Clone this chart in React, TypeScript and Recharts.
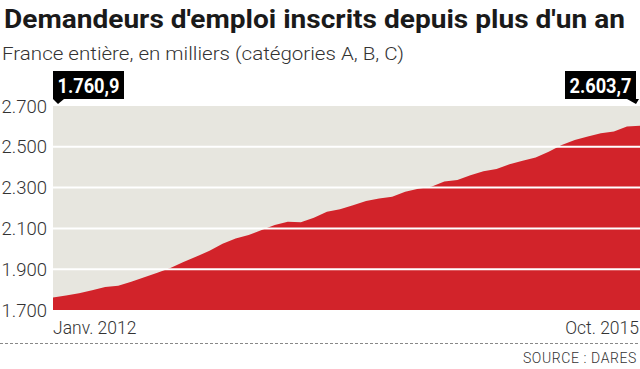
import {
  AreaChart,
  Area,
  XAxis,
  YAxis,
  CartesianGrid,
  ReferenceLine,
  ReferenceDot,
} from 'recharts'

const months = [
  'Janv. 2012', 'Févr. 2012', 'Mars 2012', 'Avr. 2012', 'Mai 2012', 'Juin 2012',
  'Juil. 2012', 'Août 2012', 'Sept. 2012', 'Oct. 2012', 'Nov. 2012', 'Déc. 2012',
  'Janv. 2013', 'Févr. 2013', 'Mars 2013', 'Avr. 2013', 'Mai 2013', 'Juin 2013',
  'Juil. 2013', 'Août 2013', 'Sept. 2013', 'Oct. 2013', 'Nov. 2013', 'Déc. 2013',
  'Janv. 2014', 'Févr. 2014', 'Mars 2014', 'Avr. 2014', 'Mai 2014', 'Juin 2014',
  'Juil. 2014', 'Août 2014', 'Sept. 2014', 'Oct. 2014', 'Nov. 2014', 'Déc. 2014',
  'Janv. 2015', 'Févr. 2015', 'Mars 2015', 'Avr. 2015', 'Mai 2015', 'Juin 2015',
  'Juil. 2015', 'Août 2015', 'Sept. 2015', 'Oct. 2015',
]

// milliers de demandeurs, cat. A, B, C
const values = [
  1760.9, 1771, 1782, 1797, 1813, 1819, 1839, 1861, 1882, 1906, 1935, 1962,
  1990, 2025, 2050, 2068, 2092, 2117, 2133, 2130, 2152, 2182, 2194, 2214,
  2234, 2246, 2255, 2280, 2294, 2304, 2330, 2337, 2360, 2380, 2391, 2415,
  2432, 2447, 2476, 2509, 2533, 2550, 2566, 2575, 2599, 2603.7,
]

const yTicks = [1700, 1900, 2100, 2300, 2500, 2700]
const gridValues = [1900, 2100, 2300, 2500]
const xTicks = ['Janv. 2012', 'Oct. 2015']

const data = months.map((month, i) => ({ month, value: values[i] }))

const RED = '#d2232a'
const PLOT_BG = '#e7e6df'
const TEXT = '#333'

function thousands(s: string) {
  return s.replace(/\B(?=(\d{3})+(?!\d))/g, '.')
}

function formatTick(v: number) {
  return thousands(String(v))
}

function formatValue(v: number) {
  const [int, dec] = v.toFixed(1).split('.')
  return `${thousands(int)},${dec}`
}

function MonthTick(props: any) {
  const { x, y, payload } = props
  const anchor = payload.value === xTicks[0] ? 'start' : 'end'
  return (
    <text
      x={anchor === 'start' ? x : x - 1}
      y={y + 16}
      textAnchor={anchor}
      fill={TEXT}
      fontSize={17.5}
      fontWeight={300}
    >
      {payload.value}
    </text>
  )
}

function Callout({ cx, cy, text, side }: { cx: number; cy: number; text: string; side: 'left' | 'right' }) {
  const w = 71
  const h = 28
  const top = cy - 35
  const boxX = side === 'left' ? cx : cx - 4 - w
  const tri =
    side === 'left'
      ? `${cx},${top + h} ${cx + 11},${top + h} ${cx + 5},${cy - 2}`
      : `${cx - 13},${top + h} ${cx - 1},${top + h} ${cx - 4},${cy - 2}`
  return (
    <g>
      <rect x={boxX} y={top} width={w} height={h} fill="#000" />
      <polygon points={tri} fill="#000" />
      <text
        x={boxX + w / 2}
        y={top + 21.5}
        textAnchor="middle"
        fill="#fff"
        fontSize={21}
        fontWeight={700}
        textLength={62}
        lengthAdjust="spacingAndGlyphs"
      >
        {text}
      </text>
    </g>
  )
}

export default function App() {
  const last = data.length - 1
  return (
    <div
      style={{
        position: 'absolute',
        top: 0,
        left: 0,
        width: 640,
        height: 369,
        background: '#fff',
        fontFamily: 'Roboto, sans-serif',
        overflow: 'hidden',
      }}
    >
      <AreaChart
        width={640}
        height={369}
        data={data}
        margin={{ top: 106, right: 0, bottom: 29, left: 0 }}
      >
        <CartesianGrid fill={PLOT_BG} horizontal={false} vertical={false} />
        <XAxis
          dataKey="month"
          ticks={xTicks}
          interval={0}
          tick={<MonthTick />}
          axisLine={false}
          tickLine={false}
          height={30}
        />
        <YAxis
          domain={[1700, 2700]}
          ticks={yTicks}
          interval={0}
          tickFormatter={formatTick}
          tick={{ fill: TEXT, fontSize: 18.5, fontWeight: 300 }}
          axisLine={false}
          tickLine={false}
          tickMargin={0}
          width={53}
        />
        <Area
          type="linear"
          dataKey="value"
          stroke="none"
          fill={RED}
          fillOpacity={1}
          isAnimationActive={false}
        />
        {gridValues.map((v) => (
          <ReferenceLine key={v} y={v} stroke="#fff" strokeWidth={2} />
        ))}
        <ReferenceDot
          x={months[0]}
          y={2700}
          r={0}
          ifOverflow="visible"
          shape={(p: any) => (
            <Callout cx={p.cx} cy={p.cy} text={formatValue(values[0])} side="left" />
          )}
        />
        <ReferenceDot
          x={months[last]}
          y={2700}
          r={0}
          ifOverflow="visible"
          shape={(p: any) => (
            <Callout cx={p.cx} cy={p.cy} text={formatValue(values[last])} side="right" />
          )}
        />
      </AreaChart>
      <svg
        width={640}
        height={369}
        style={{ position: 'absolute', top: 0, left: 0, pointerEvents: 'none' }}
      >
        <text
          x={4}
          y={28}
          fontSize={25}
          fontWeight={700}
          fill="#1a1a1a"
          textLength={621}
          lengthAdjust="spacingAndGlyphs"
        >
          Demandeurs d'emploi inscrits depuis plus d'un an
        </text>
        <text
          x={2}
          y={60}
          fontSize={18}
          fontWeight={300}
          fill={TEXT}
          textLength={402}
          lengthAdjust="spacingAndGlyphs"
        >
          France entière, en milliers (catégories A, B, C)
        </text>
        <line x1={0} x2={640} y1={343.5} y2={343.5} stroke="#888" strokeDasharray="3 2" />
        <text
          x={637}
          y={363}
          fontSize={14}
          fontWeight={300}
          fill={TEXT}
          textAnchor="end"
          letterSpacing={0.6}
        >
          SOURCE : DARES
        </text>
      </svg>
    </div>
  )
}
